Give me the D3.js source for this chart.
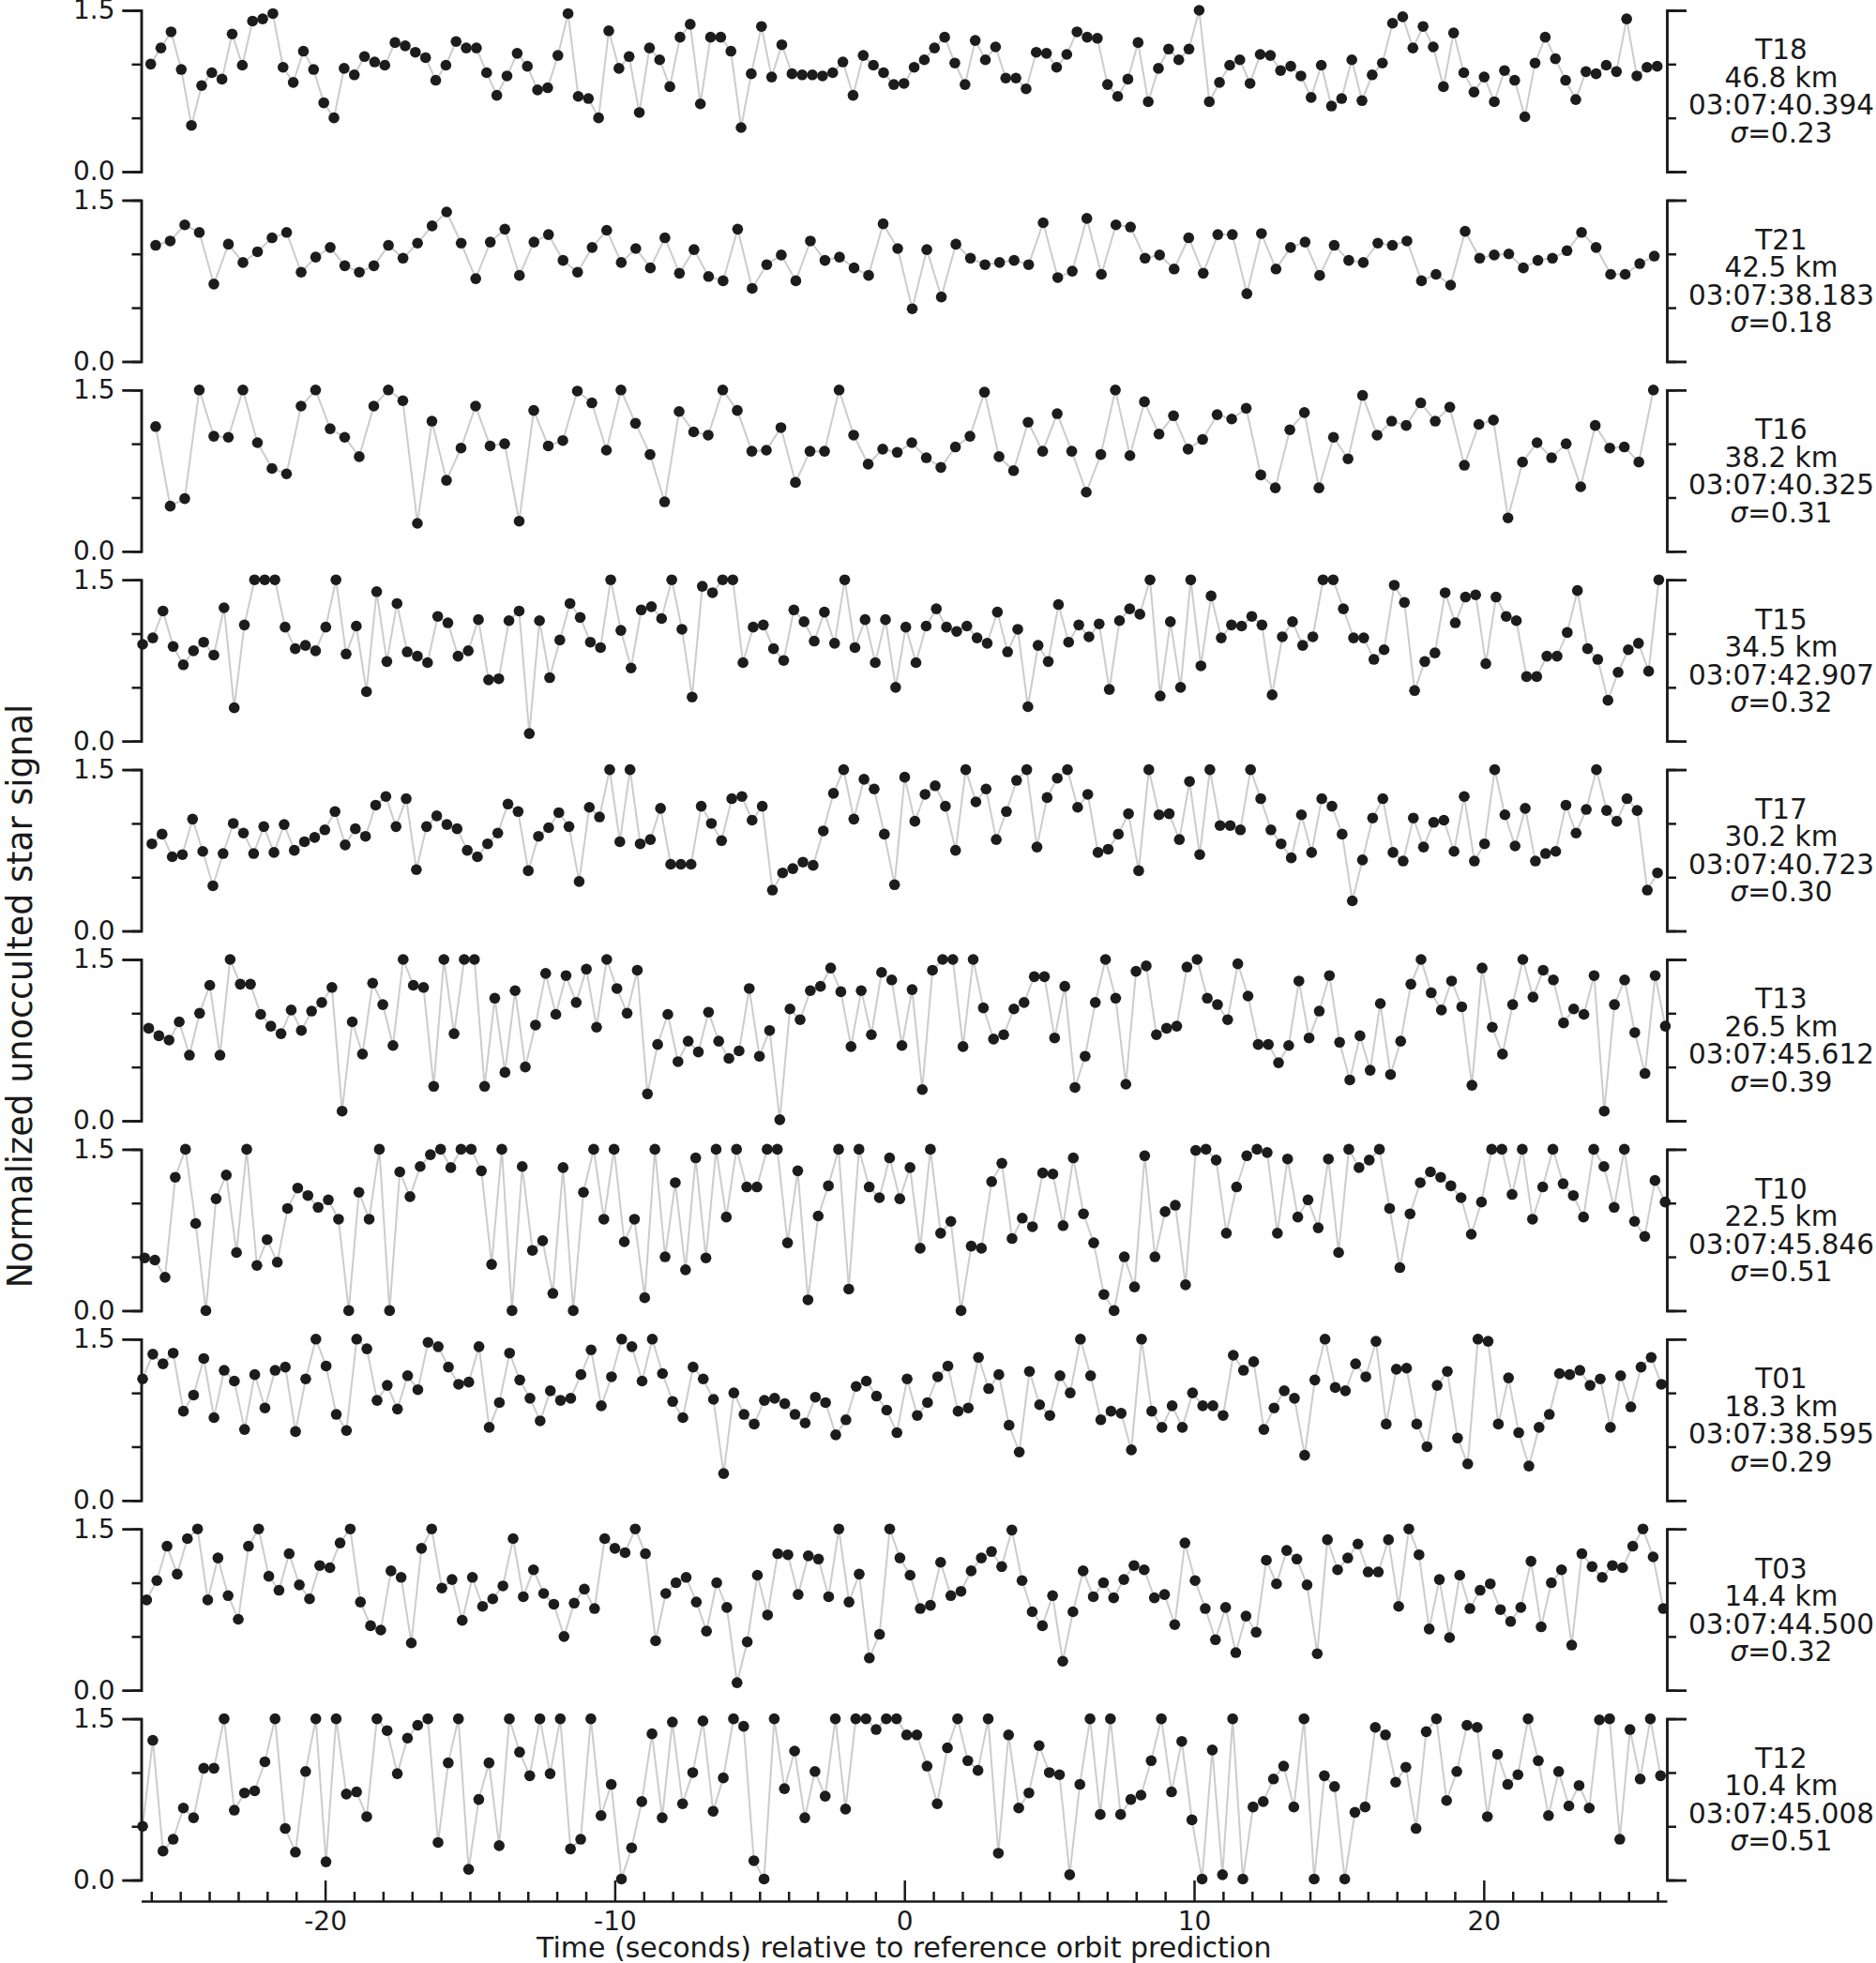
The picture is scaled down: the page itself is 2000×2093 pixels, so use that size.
<!DOCTYPE html>
<html>
<head>
<meta charset="utf-8">
<script src="https://cdn.jsdelivr.net/npm/d3@7"></script>
<style>
body{margin:0;background:#fff;}
text{font-family:"DejaVu Sans",sans-serif;fill:#1a1a1a;}
</style>
</head>
<body>
<svg></svg>
<script>

// sampled light curves, one array per telescope (values clipped to 0..1.5)
var T18=[1.00,1.15,1.30,0.95,0.43,0.80,0.92,0.86,1.28,0.99,1.40,1.42,1.47,0.97,0.83,1.12,0.95,0.64,0.50,0.96,0.90,1.07,1.02,0.99,1.20,1.17,1.11,1.06,0.85,0.99,1.21,1.15,1.15,0.92,0.71,0.89,1.10,0.98,0.76,0.78,1.08,1.47,0.70,0.68,0.50,1.31,0.96,1.07,0.55,1.15,1.04,0.79,1.25,1.37,0.63,1.25,1.25,1.12,0.41,0.91,1.35,0.88,1.18,0.91,0.90,0.90,0.89,0.92,1.02,0.71,1.08,0.99,0.92,0.81,0.82,0.97,1.04,1.15,1.25,1.01,0.81,1.22,1.04,1.16,0.87,0.87,0.77,1.11,1.10,0.97,1.09,1.30,1.25,1.24,0.81,0.70,0.86,1.20,0.65,0.96,1.14,1.04,1.14,1.50,0.65,0.83,0.99,1.04,0.82,1.09,1.08,0.94,0.98,0.89,0.69,0.99,0.61,0.68,1.04,0.66,0.90,1.01,1.38,1.44,1.15,1.35,1.16,0.79,1.29,0.92,0.74,0.88,0.65,0.94,0.85,0.51,1.01,1.25,1.05,0.85,0.67,0.93,0.91,0.99,0.93,1.42,0.89,0.97,0.98]
var T21=[1.08,1.12,1.27,1.20,0.72,1.09,0.92,1.02,1.15,1.20,0.83,0.97,1.06,0.89,0.83,0.89,1.08,0.96,1.10,1.26,1.39,1.10,0.77,1.11,1.23,0.80,1.11,1.18,0.94,0.83,1.06,1.22,0.92,1.05,0.87,1.15,0.82,1.04,0.79,0.75,1.23,0.68,0.90,0.99,0.75,1.12,0.94,0.97,0.87,0.80,1.28,1.05,0.49,1.04,0.60,1.09,0.96,0.90,0.92,0.94,0.90,1.29,0.78,0.84,1.33,0.81,1.27,1.25,0.96,0.99,0.86,1.15,0.82,1.18,1.18,0.63,1.19,0.86,1.06,1.11,0.80,1.08,0.94,0.92,1.10,1.08,1.12,0.75,0.81,0.71,1.21,0.96,0.99,1.00,0.87,0.94,0.96,1.03,1.20,1.06,0.81,0.81,0.91,0.98]
var T16=[1.16,0.42,0.49,1.50,1.07,1.06,1.50,1.01,0.77,0.72,1.35,1.50,1.14,1.06,0.88,1.35,1.50,1.40,0.26,1.21,0.66,0.96,1.35,0.98,1.00,0.28,1.31,0.98,1.03,1.49,1.38,0.94,1.50,1.19,0.90,0.46,1.30,1.11,1.08,1.50,1.31,0.93,0.94,1.15,0.64,0.93,0.93,1.50,1.08,0.81,0.95,0.92,1.01,0.87,0.78,0.97,1.07,1.48,0.88,0.75,1.20,0.93,1.28,0.93,0.55,0.90,1.50,0.89,1.39,1.09,1.26,0.95,1.04,1.27,1.23,1.33,0.71,0.59,1.13,1.29,0.59,1.06,0.86,1.45,1.08,1.21,1.17,1.38,1.21,1.34,0.80,1.18,1.22,0.31,0.83,1.01,0.87,1.00,0.60,1.17,0.96,0.97,0.83,1.50]
var T15=[0.90,0.96,1.21,0.88,0.71,0.84,0.92,0.80,1.24,0.31,1.08,1.50,1.50,1.50,1.06,0.86,0.89,0.84,1.06,1.50,0.81,1.07,0.46,1.39,0.74,1.28,0.83,0.79,0.73,1.16,1.10,0.79,0.84,1.13,0.57,0.58,1.12,1.21,0.07,1.12,0.59,0.94,1.28,1.15,0.92,0.87,1.50,1.03,0.68,1.22,1.25,1.14,1.50,1.04,0.41,1.44,1.38,1.50,1.50,0.73,1.06,1.08,0.86,0.75,1.22,1.11,0.93,1.20,0.91,1.50,0.87,1.13,0.73,1.13,0.50,1.06,0.73,1.07,1.23,1.06,1.02,1.07,0.96,0.91,1.20,0.83,1.04,0.32,0.89,0.74,1.27,0.92,1.08,0.97,1.09,0.48,1.12,1.23,1.18,1.50,0.42,1.11,0.50,1.50,0.70,1.35,0.96,1.08,1.07,1.16,1.08,0.43,0.97,1.11,0.89,0.97,1.50,1.50,1.23,0.96,0.96,0.76,0.85,1.45,1.29,0.47,0.74,0.82,1.38,1.10,1.34,1.36,0.72,1.34,1.16,1.12,0.60,0.60,0.79,0.79,1.01,1.40,0.86,0.76,0.38,0.64,0.85,0.91,0.65,1.50]
var T17=[0.81,0.90,0.69,0.71,1.04,0.74,0.42,0.72,1.00,0.91,0.72,0.97,0.73,0.99,0.75,0.83,0.87,0.94,1.11,0.80,0.95,0.88,1.17,1.25,0.97,1.23,0.57,0.97,1.07,0.99,0.95,0.75,0.69,0.81,0.91,1.18,1.11,0.56,0.88,0.96,1.10,0.97,0.46,1.15,1.06,1.50,0.83,1.50,0.81,0.85,1.14,0.62,0.62,0.62,1.16,1.00,0.84,1.23,1.25,1.03,1.16,0.38,0.54,0.58,0.64,0.61,0.93,1.28,1.50,1.04,1.41,1.32,0.90,0.43,1.43,1.02,1.27,1.35,1.16,0.75,1.50,1.20,1.32,0.85,1.11,1.40,1.50,0.78,1.24,1.42,1.50,1.15,1.27,0.73,0.76,0.90,1.09,0.56,1.50,1.08,1.09,0.85,1.39,0.71,1.50,0.98,0.98,0.94,1.50,1.23,0.94,0.81,0.68,1.08,0.73,1.23,1.16,0.90,0.28,0.66,1.05,1.23,0.73,0.65,1.05,0.78,1.01,1.03,0.74,1.25,0.65,0.81,1.50,1.08,0.79,1.14,0.65,0.72,0.74,1.17,0.91,1.13,1.50,1.12,1.02,1.23,1.12,0.38,0.54]
var T13=[0.86,0.79,0.75,0.92,0.61,1.00,1.26,0.61,1.50,1.27,1.27,0.99,0.88,0.81,1.03,0.84,1.02,1.10,1.24,0.09,0.92,0.62,1.28,1.08,0.70,1.50,1.26,1.24,0.32,1.50,0.81,1.50,1.50,0.32,1.14,0.45,1.21,0.50,0.89,1.37,0.99,1.35,1.10,1.41,0.87,1.50,1.23,1.00,1.40,0.25,0.71,0.99,0.55,0.74,0.64,1.01,0.74,0.58,0.65,1.23,0.60,0.84,0.01,1.04,0.94,1.21,1.25,1.42,1.20,0.69,1.21,0.80,1.38,1.31,0.70,1.22,0.29,1.40,1.50,1.50,0.69,1.50,1.05,0.76,0.80,1.04,1.10,1.34,1.34,0.77,1.25,0.31,0.60,1.10,1.50,1.14,0.34,1.39,1.44,0.80,0.86,0.88,1.43,1.50,1.14,1.08,0.94,1.46,1.16,0.71,0.71,0.54,0.70,1.30,0.77,1.02,1.35,0.73,0.38,0.79,0.47,1.09,0.43,0.74,1.27,1.50,1.19,1.03,1.30,1.06,0.33,1.42,0.87,0.62,1.08,1.50,1.15,1.40,1.31,0.91,1.04,0.99,1.35,0.09,1.08,1.31,0.82,0.44,1.35,0.88]
var T10=[0.49,0.47,0.31,1.24,1.50,0.81,0.00,1.04,1.26,0.54,1.50,0.42,0.66,0.45,0.95,1.14,1.07,0.96,1.03,0.85,0.00,1.10,0.85,1.50,0.00,1.29,1.06,1.34,1.45,1.50,1.33,1.50,1.50,1.30,0.43,1.50,0.00,1.34,0.56,0.65,0.16,1.33,0.00,1.10,1.50,0.85,1.50,0.64,0.85,0.12,1.50,0.50,1.19,0.38,1.42,0.49,1.50,0.87,1.50,1.15,1.15,1.50,1.50,0.63,1.30,0.10,0.88,1.16,1.50,0.20,1.50,1.15,1.05,1.42,1.04,1.33,0.58,1.50,0.72,0.83,0.00,0.60,0.58,1.20,1.37,0.67,0.86,0.78,1.28,1.27,0.79,1.42,0.90,0.63,0.15,0.00,0.50,0.22,1.44,0.50,0.92,0.98,0.24,1.49,1.50,1.40,0.72,1.15,1.44,1.50,1.47,0.72,1.41,0.87,1.03,0.77,1.41,0.54,1.50,1.33,1.40,1.50,0.95,0.40,0.90,1.19,1.29,1.24,1.16,1.05,0.71,1.01,1.50,1.50,1.08,1.50,0.85,1.15,1.50,1.18,1.07,0.87,1.50,1.34,0.96,1.50,0.83,0.69,1.21,1.01]
var T01=[1.13,1.36,1.27,1.37,0.83,0.98,1.32,0.77,1.21,1.11,0.66,1.17,0.86,1.21,1.24,0.64,1.13,1.50,1.25,0.80,0.65,1.50,1.41,0.93,1.07,0.85,1.16,1.03,1.47,1.43,1.24,1.08,1.10,1.43,0.68,0.91,1.37,1.12,0.95,0.74,1.02,0.93,0.95,1.17,1.40,0.88,1.15,1.50,1.43,1.11,1.50,1.18,0.92,0.77,1.24,1.13,0.94,0.25,1.00,0.80,0.71,0.93,0.95,0.90,0.80,0.72,0.96,0.91,0.61,0.75,1.06,1.11,0.97,0.84,0.63,1.13,0.79,0.91,1.15,1.25,0.83,0.86,1.33,1.04,1.17,0.70,0.45,1.20,0.89,0.79,1.16,1.00,1.50,1.16,0.75,0.83,0.81,0.47,1.50,0.83,0.68,0.88,0.68,1.00,0.88,0.88,0.79,1.35,1.21,1.29,0.66,0.86,1.02,0.95,0.42,1.12,1.50,1.05,1.02,1.27,1.15,1.48,0.71,1.22,1.23,0.71,0.50,1.07,1.20,0.58,0.34,1.50,1.48,0.71,1.14,0.63,0.32,0.68,0.80,1.18,1.17,1.21,1.07,1.13,0.68,1.16,0.87,1.24,1.33,1.08]
var T03=[0.84,1.02,1.34,1.08,1.41,1.50,0.84,1.23,0.88,0.66,1.34,1.50,1.06,0.93,1.27,0.98,0.85,1.16,1.14,1.37,1.50,0.82,0.60,0.56,1.11,1.05,0.44,1.32,1.50,0.95,1.03,0.65,1.05,0.78,0.85,0.97,1.41,0.87,1.12,0.90,0.80,0.50,0.81,0.94,0.76,1.41,1.32,1.28,1.50,1.27,0.46,0.90,1.00,1.05,0.82,0.55,1.00,0.77,0.07,0.45,1.07,0.70,1.27,1.26,0.89,1.25,1.22,0.87,1.50,0.82,1.08,0.30,0.52,1.50,1.23,1.07,0.76,0.79,1.19,0.88,0.92,1.11,1.23,1.29,1.15,1.49,1.02,0.73,0.60,0.88,0.27,0.73,1.11,0.87,1.00,0.86,1.03,1.16,1.12,0.86,0.89,0.61,1.37,1.02,0.76,0.47,0.77,0.35,0.69,0.54,1.21,0.99,1.30,1.22,0.98,0.34,1.40,1.12,1.23,1.36,1.10,1.10,1.40,0.78,1.50,1.26,0.57,1.03,0.49,1.07,0.76,0.93,0.99,0.75,0.64,0.77,1.20,0.59,1.00,1.12,0.42,1.27,1.15,1.05,1.16,1.14,1.34,1.50,1.24,0.76]
var T12=[0.50,1.30,0.27,0.38,0.67,0.58,1.04,1.04,1.50,0.65,0.81,0.83,1.10,1.50,0.48,0.26,1.01,1.50,0.17,1.50,0.80,0.82,0.59,1.50,1.39,0.99,1.32,1.44,1.50,0.35,1.09,1.50,0.10,0.75,1.09,0.32,1.50,1.19,0.97,1.50,0.99,1.50,0.29,0.38,1.50,0.60,0.89,0.01,0.30,0.73,1.36,0.58,1.47,0.71,1.00,1.48,0.64,0.95,1.50,1.43,0.18,0.01,1.50,0.85,1.20,0.58,1.01,0.78,1.50,0.66,1.50,1.50,1.40,1.50,1.50,1.35,1.35,1.06,0.71,1.23,1.50,1.11,1.02,1.50,0.25,1.35,0.67,0.81,1.25,1.00,0.98,0.05,0.89,1.50,0.61,1.50,0.61,0.75,0.79,1.11,1.50,0.82,1.29,0.56,0.01,1.21,0.05,1.50,0.01,0.68,0.73,0.94,1.06,0.68,1.50,0.01,0.97,0.87,0.01,0.63,0.68,1.42,1.35,0.91,1.05,0.48,1.38,1.50,0.74,1.01,1.44,1.42,0.59,1.17,0.89,0.98,1.50,1.11,0.60,1.01,0.69,0.88,0.67,1.49,1.50,0.38,1.40,0.94,1.50,0.97]

// panel order top to bottom, and the text beside each one
var series=[T18,T21,T16,T15,T17,T13,T10,T01,T03,T12]
var names=["T18","T21","T16","T15","T17","T13","T10","T01","T03","T12"]
var ranges=["46.8 km","42.5 km","38.2 km","34.5 km","30.2 km","26.5 km","22.5 km","18.3 km","14.4 km","10.4 km"]
var times=["03:07:40.394","03:07:38.183","03:07:40.325","03:07:42.907","03:07:40.723","03:07:45.612","03:07:45.846","03:07:38.595","03:07:44.500","03:07:45.008"]
var sigmas=["0.23","0.18","0.31","0.32","0.30","0.39","0.51","0.29","0.32","0.51"]
// first sample time (s) and sampling interval (s) of each telescope
var startTimes=[-26.02,-25.85,-25.85,-26.30,-25.98,-26.09,-26.23,-26.30,-26.16,-26.30]
var cadences=[0.3514,0.5023,0.5020,0.3513,0.3512,0.3514,0.3523,0.3519,0.3514,0.3517]

var xTicks=d3.range(-26,27)
var xLabels=[-20,-10,0,10,20]

var screen={width:2000,height:2093}
var plot={left:150.5,right:1777,top:11,step:202.4,height:172}

var svg=d3.select("svg")
    .attr("width",screen.width)
    .attr("height",screen.height)

svg.append("rect")
    .attr("width",screen.width)
    .attr("height",screen.height)
    .attr("fill","white")

var xScale=d3.scaleLinear()
    .domain([-26.35,26.32])
    .range([plot.left,plot.right])

var clip=function(v){return Math.max(0,Math.min(1.5,v))}

var drawPanel=function(values,i)
{
    var top=plot.top+plot.step*i
    var yScale=d3.scaleLinear()
        .domain([0,1.5])
        .range([plot.height,0])

    var g=svg.append("g")
        .attr("class","panel")
        .attr("transform","translate(0,"+top+")")

    var pts=values.map(function(v,k)
    {
        return {t:startTimes[i]+k*cadences[i],v:clip(v)}
    })

    var line=d3.line()
        .x(function(d){return xScale(d.t)})
        .y(function(d){return yScale(d.v)})

    g.append("path")
        .datum(pts)
        .attr("d",line)
        .attr("fill","none")
        .attr("stroke","#cccccc")
        .attr("stroke-width",2)

    g.selectAll("circle")
        .data(pts)
        .enter()
        .append("circle")
        .attr("cx",function(d){return xScale(d.t)})
        .attr("cy",function(d){return yScale(d.v)})
        .attr("r",5.8)
        .attr("fill","#1c1c1c")

    // left axis: labelled ticks at 0 and 1.5, short ticks between
    g.append("g")
        .attr("class","ax")
        .attr("transform","translate("+plot.left+",0)")
        .call(d3.axisLeft(yScale).tickValues([0,1.5]).tickSize(20).tickPadding(8).tickFormat(d3.format(".1f")))
    g.append("g")
        .attr("class","ax")
        .attr("transform","translate("+plot.left+",0)")
        .call(d3.axisLeft(yScale).tickValues([0.5,1.0]).tickSize(10).tickFormat(""))

    g.append("g")
        .attr("class","ax")
        .attr("transform","translate("+plot.right+",0)")
        .call(d3.axisRight(yScale).tickValues([0,1.5]).tickSize(21).tickFormat(""))
    g.append("g")
        .attr("class","ax")
        .attr("transform","translate("+plot.right+",0)")
        .call(d3.axisRight(yScale).tickValues([0.5,1.0]).tickSize(10).tickFormat(""))

    var label=g.append("text")
        .attr("text-anchor","middle")
        .attr("font-size",29.5)
    var lines=[names[i],ranges[i],times[i]]
    lines.forEach(function(s,k)
    {
        label.append("tspan")
            .attr("x",1899)
            .attr("y",plot.height/2-44+29.5*k)
            .attr("dy","0.35em")
            .text(s)
    })
    var last=label.append("tspan")
        .attr("x",1899)
        .attr("y",plot.height/2+44.5)
        .attr("dy","0.35em")
    last.append("tspan").attr("font-style","italic").text("σ")
    last.append("tspan").text("="+sigmas[i])
}

series.forEach(drawPanel)

// shared time axis under the last panel
var xAxisY=2027
var xAxis=svg.append("g")
    .attr("class","ax")
    .attr("transform","translate(0,"+xAxisY+")")
    .call(d3.axisBottom(xScale).tickValues(xTicks).tickSizeInner(-10).tickSizeOuter(0).tickPadding(11)
        .tickFormat(function(d){return String(d)}))

xAxis.selectAll(".tick line")
    .attr("y2",function(d){return xLabels.indexOf(d)>=0?-22:-10})
xAxis.selectAll(".tick text")
    .filter(function(d){return xLabels.indexOf(d)<0})
    .remove()

svg.selectAll(".ax path")
    .attr("stroke","#1a1a1a")
    .attr("stroke-width",2.5)
svg.selectAll(".ax line")
    .attr("stroke","#1a1a1a")
    .attr("stroke-width",2.5)
svg.selectAll(".ax text")
    .attr("font-size",28)
    .attr("font-family","DejaVu Sans")
    .attr("fill","#1a1a1a")

svg.append("text")
    .attr("x",(plot.left+plot.right)/2)
    .attr("y",2087)
    .attr("text-anchor","middle")
    .attr("font-size",30)
    .text("Time (seconds) relative to reference orbit prediction")

svg.append("text")
    .attr("transform","translate(34,1062) rotate(-90)")
    .attr("text-anchor","middle")
    .attr("font-size",36.5)
    .text("Normalized unocculted star signal")

</script>
</body>
</html>
